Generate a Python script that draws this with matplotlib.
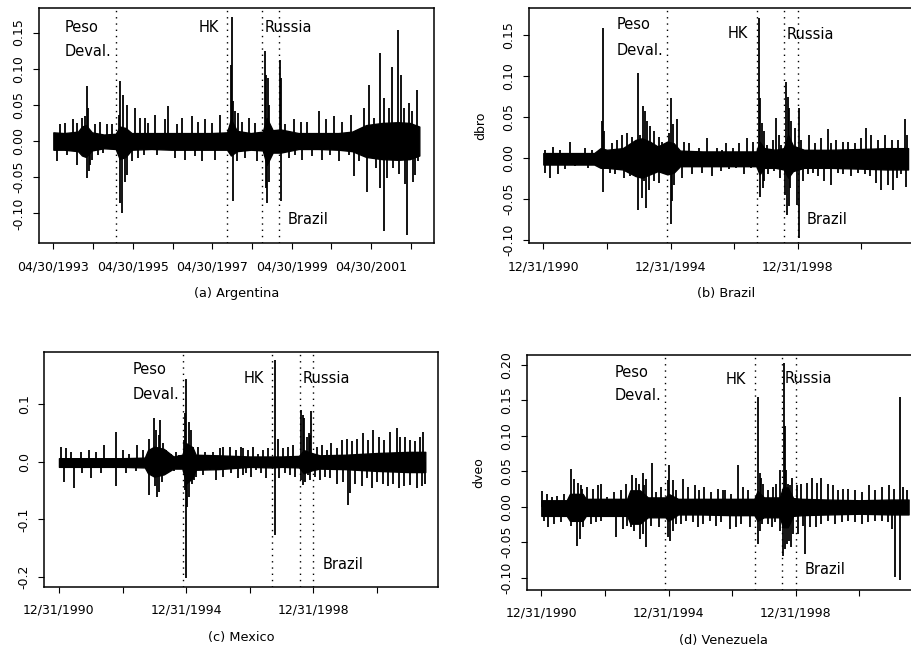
import matplotlib
matplotlib.use("Agg")
import matplotlib.pyplot as plt

plt.rcParams["font.family"] = ["DejaVu Sans"]
plt.rcParams["axes.unicode_minus"] = False

# crisis dates (decimal years) marked by dotted lines
event_names = ["Peso", "HK", "Russia", "Brazil"]
event_dates = [1994.90, 1997.71, 1998.57, 1999.00]

# ---- (a) Argentina: dense core band + individual spikes
arg_t = [1993.33, 1993.6, 1993.95, 1994.05, 1994.15, 1994.3, 1994.6, 1994.9, 1995.0, 1995.15,
         1995.3, 1995.8, 1996.3, 1996.8, 1997.3, 1997.7, 1997.8, 1997.95, 1998.3, 1998.6,
         1998.7, 1998.85, 1999.05, 1999.5, 2000.0, 2000.5, 2000.85, 2001.2, 2001.6, 2002.0,
         2002.3, 2002.54]
arg_hi = [0.012, 0.011, 0.013, 0.020, 0.022, 0.012, 0.009, 0.010, 0.020, 0.018,
          0.011, 0.011, 0.011, 0.011, 0.011, 0.012, 0.030, 0.014, 0.011, 0.013,
          0.032, 0.015, 0.016, 0.011, 0.011, 0.011, 0.013, 0.022, 0.025, 0.026,
          0.025, 0.020]
arg_lo = [-0.012, -0.012, -0.014, -0.020, -0.022, -0.013, -0.010, -0.011, -0.025, -0.022,
          -0.012, -0.011, -0.012, -0.012, -0.012, -0.012, -0.020, -0.014, -0.012, -0.013,
          -0.033, -0.016, -0.016, -0.011, -0.011, -0.012, -0.014, -0.022, -0.025, -0.026,
          -0.025, -0.020]
arg_spk_t = [1993.41, 1993.50, 1993.62, 1993.67, 1993.83, 1993.92, 1993.93, 1994.04, 1994.13, 1994.17,
             1994.18, 1994.21, 1994.22, 1994.25, 1994.30, 1994.38, 1994.46, 1994.51, 1994.59, 1994.67,
             1994.80, 1994.97, 1995.01, 1995.02, 1995.05, 1995.09, 1995.13, 1995.18, 1995.19, 1995.30,
             1995.39, 1995.47, 1995.51, 1995.60, 1995.64, 1995.72, 1995.89, 1995.93, 1996.14, 1996.21,
             1996.39, 1996.44, 1996.56, 1996.65, 1996.81, 1996.90, 1996.98, 1997.07, 1997.15, 1997.32,
             1997.40, 1997.53, 1997.80, 1997.82, 1997.84, 1997.86, 1997.91, 1997.95, 1997.97, 1998.08,
             1998.16, 1998.25, 1998.41, 1998.46, 1998.65, 1998.67, 1998.69, 1998.71, 1998.72, 1998.75,
             1998.76, 1999.03, 1999.06, 1999.07, 1999.17, 1999.25, 1999.38, 1999.42, 1999.55, 1999.59,
             1999.72, 1999.84, 2000.01, 2000.09, 2000.18, 2000.30, 2000.39, 2000.51, 2000.60, 2000.76,
             2000.81, 2000.89, 2001.02, 2001.14, 2001.23, 2001.27, 2001.39, 2001.44, 2001.54, 2001.56,
             2001.65, 2001.66, 2001.73, 2001.77, 2001.86, 2001.87, 2002.01, 2002.03, 2002.07, 2002.15,
             2002.17, 2002.23, 2002.28, 2002.36, 2002.37, 2002.44, 2002.49, 2002.51]
arg_spk_v = [-0.028, 0.023, 0.025, -0.019, 0.030, -0.033, 0.025, 0.032, 0.034, 0.076,
             -0.051, 0.046, -0.042, -0.033, -0.026, 0.023, -0.019, 0.027, -0.016, 0.023,
             0.023, 0.036, 0.083, -0.086, -0.100, 0.064, -0.056, 0.050, -0.047, -0.028,
             0.046, -0.023, 0.032, -0.019, 0.032, 0.025, 0.036, -0.019, 0.030, 0.049,
             -0.023, 0.023, 0.032, -0.026, 0.034, -0.021, 0.027, -0.028, 0.030, 0.025,
             -0.026, 0.036, 0.105, 0.172, -0.083, 0.055, 0.041, -0.028, 0.039, 0.027,
             -0.023, 0.032, 0.025, -0.028, 0.124, -0.065, 0.092, -0.086, 0.087, 0.050,
             -0.056, 0.112, -0.083, 0.087, 0.023, -0.023, 0.030, -0.019, 0.027, -0.026,
             0.027, -0.021, 0.041, -0.026, 0.030, -0.019, 0.034, -0.028, 0.027, -0.019,
             0.036, -0.049, -0.028, 0.046, -0.070, 0.078, 0.032, -0.037, 0.122, -0.065,
             0.059, -0.125, -0.051, 0.046, 0.103, -0.037, 0.154, -0.046, 0.092, 0.046,
             -0.060, -0.130, 0.053, 0.041, -0.056, -0.047, 0.071, -0.028]

# ---- (b) Brazil
bra_t = [1991.0, 1991.8, 1992.6, 1992.8, 1993.0, 1993.5, 1993.9, 1994.1, 1994.35, 1994.6,
         1994.9, 1995.1, 1995.3, 1996.0, 1996.7, 1997.3, 1997.7, 1997.8, 1997.95, 1998.3,
         1998.56, 1998.7, 1998.85, 1999.2, 2000.0, 2001.0, 2001.8, 2002.47]
bra_hi = [0.006, 0.006, 0.006, 0.012, 0.010, 0.012, 0.022, 0.024, 0.020, 0.014,
          0.020, 0.018, 0.009, 0.008, 0.008, 0.008, 0.008, 0.020, 0.012, 0.010,
          0.012, 0.028, 0.015, 0.010, 0.010, 0.011, 0.012, 0.012]
bra_lo = [-0.008, -0.008, -0.008, -0.012, -0.012, -0.014, -0.022, -0.024, -0.020, -0.016,
          -0.020, -0.018, -0.010, -0.010, -0.010, -0.010, -0.010, -0.020, -0.012, -0.012,
          -0.014, -0.024, -0.016, -0.012, -0.012, -0.013, -0.014, -0.014]
bra_spk_t = [1991.05, 1991.06, 1991.21, 1991.32, 1991.47, 1991.53, 1991.68, 1991.84, 1992.00, 1992.32,
             1992.42, 1992.53, 1992.82, 1992.84, 1992.87, 1992.88, 1992.92, 1993.11, 1993.16, 1993.26,
             1993.32, 1993.47, 1993.53, 1993.63, 1993.74, 1993.79, 1993.97, 1993.98, 1994.05, 1994.11,
             1994.13, 1994.16, 1994.19, 1994.24, 1994.26, 1994.32, 1994.35, 1994.47, 1994.48, 1994.63,
             1994.65, 1994.74, 1994.79, 1994.95, 1994.96, 1995.00, 1995.02, 1995.05, 1995.07, 1995.11,
             1995.21, 1995.37, 1995.42, 1995.58, 1995.68, 1995.89, 1996.00, 1996.16, 1996.32, 1996.47,
             1996.58, 1996.63, 1996.74, 1996.84, 1996.95, 1997.05, 1997.16, 1997.32, 1997.42, 1997.53,
             1997.58, 1997.77, 1997.82, 1997.83, 1997.87, 1997.90, 1997.93, 1997.95, 1998.05, 1998.06,
             1998.21, 1998.26, 1998.32, 1998.42, 1998.43, 1998.47, 1998.61, 1998.63, 1998.66, 1998.69,
             1998.72, 1998.74, 1998.77, 1998.79, 1998.92, 1998.98, 1999.03, 1999.04, 1999.11, 1999.16,
             1999.32, 1999.37, 1999.47, 1999.53, 1999.63, 1999.74, 1999.84, 1999.95, 2000.05, 2000.06,
             2000.21, 2000.26, 2000.42, 2000.43, 2000.58, 2000.68, 2000.79, 2000.89, 2001.00, 2001.11,
             2001.16, 2001.26, 2001.32, 2001.47, 2001.53, 2001.63, 2001.74, 2001.84, 2001.95, 2002.00,
             2002.11, 2002.16, 2002.26, 2002.39, 2002.42, 2002.45]
bra_spk_v = [0.010, -0.018, -0.024, 0.014, -0.020, 0.010, -0.014, 0.020, -0.010, 0.012,
             -0.012, 0.010, -0.012, 0.045, 0.159, -0.041, 0.033, -0.018, 0.018, -0.020,
             0.022, 0.028, -0.024, 0.030, -0.022, 0.026, 0.104, -0.063, 0.028, -0.049,
             0.063, -0.028, 0.057, -0.061, 0.045, -0.039, 0.039, 0.033, -0.028, 0.026,
             -0.030, 0.020, -0.020, 0.030, -0.020, -0.081, 0.073, -0.053, 0.041, -0.033,
             0.047, -0.024, 0.020, 0.018, -0.020, 0.012, -0.018, 0.024, -0.022, 0.012,
             -0.016, 0.010, 0.018, -0.014, 0.012, -0.012, 0.018, -0.020, 0.024, -0.012,
             0.020, 0.171, 0.073, -0.047, 0.043, -0.037, 0.033, -0.028, 0.016, -0.020,
             0.022, -0.016, 0.049, 0.028, -0.024, 0.016, -0.045, 0.093, -0.069, 0.075,
             -0.059, 0.061, -0.037, 0.045, 0.037, -0.057, 0.061, -0.098, 0.022, -0.028,
             -0.020, 0.028, -0.018, 0.018, -0.022, 0.024, -0.028, 0.035, 0.018, -0.033,
             0.022, -0.018, 0.020, -0.020, 0.020, -0.022, 0.018, -0.018, 0.024, -0.020,
             0.037, -0.022, 0.028, -0.030, 0.022, -0.039, 0.028, -0.033, 0.022, -0.039,
             -0.024, 0.022, -0.020, 0.047, -0.035, 0.028]

# ---- (c) Mexico
mex_t = [1991.0, 1992.0, 1993.0, 1993.7, 1993.8, 1994.0, 1994.3, 1994.6, 1994.88, 1995.0,
         1995.2, 1995.3, 1996.0, 1997.0, 1997.7, 1998.0, 1998.55, 1998.7, 1998.95, 1999.2,
         2000.0, 2001.0, 2002.0, 2002.52]
mex_hi = [0.006, 0.006, 0.006, 0.007, 0.020, 0.026, 0.022, 0.009, 0.012, 0.032,
          0.025, 0.012, 0.011, 0.009, 0.009, 0.009, 0.010, 0.020, 0.015, 0.011,
          0.012, 0.015, 0.017, 0.017]
mex_lo = [-0.009, -0.009, -0.009, -0.010, -0.020, -0.026, -0.022, -0.012, -0.012, -0.038,
          -0.028, -0.014, -0.013, -0.009, -0.010, -0.009, -0.010, -0.020, -0.015, -0.012,
          -0.013, -0.016, -0.018, -0.018]
mex_spk_t = [1991.05, 1991.16, 1991.21, 1991.37, 1991.47, 1991.68, 1991.74, 1991.95, 1992.00, 1992.16,
             1992.32, 1992.42, 1992.79, 1992.80, 1993.00, 1993.11, 1993.21, 1993.42, 1993.47, 1993.63,
             1993.82, 1993.84, 1994.00, 1994.03, 1994.05, 1994.07, 1994.14, 1994.16, 1994.19, 1994.24,
             1994.26, 1994.37, 1994.42, 1994.53, 1994.63, 1994.68, 1994.79, 1994.93, 1994.95, 1994.97,
             1995.00, 1995.00, 1995.03, 1995.08, 1995.09, 1995.16, 1995.17, 1995.23, 1995.24, 1995.32,
             1995.37, 1995.53, 1995.58, 1995.74, 1995.84, 1995.95, 1996.05, 1996.16, 1996.17, 1996.37,
             1996.42, 1996.58, 1996.63, 1996.74, 1996.79, 1996.80, 1996.89, 1996.94, 1997.05, 1997.10,
             1997.21, 1997.26, 1997.36, 1997.42, 1997.52, 1997.57, 1997.81, 1997.81, 1997.89, 1997.92,
             1998.05, 1998.10, 1998.21, 1998.26, 1998.36, 1998.42, 1998.61, 1998.61, 1998.66, 1998.66,
             1998.71, 1998.73, 1998.79, 1998.84, 1998.86, 1998.91, 1998.91, 1998.94, 1999.05, 1999.10,
             1999.21, 1999.26, 1999.36, 1999.42, 1999.52, 1999.57, 1999.73, 1999.73, 1999.89, 1999.94,
             2000.05, 2000.10, 2000.15, 2000.21, 2000.31, 2000.36, 2000.52, 2000.57, 2000.68, 2000.73,
             2000.84, 2000.89, 2000.99, 2001.05, 2001.20, 2001.21, 2001.36, 2001.42, 2001.52, 2001.63,
             2001.68, 2001.73, 2001.84, 2001.89, 2002.04, 2002.05, 2002.21, 2002.26, 2002.36, 2002.42,
             2002.45, 2002.50]
mex_spk_v = [0.026, -0.035, 0.023, 0.017, -0.046, 0.017, -0.020, 0.020, -0.029, 0.017,
             -0.020, 0.029, 0.052, -0.043, 0.020, -0.020, 0.014, -0.017, 0.029, 0.020,
             0.040, -0.058, 0.075, -0.043, 0.055, -0.061, 0.046, -0.052, 0.072, -0.035,
             0.032, 0.020, -0.014, 0.014, -0.017, 0.017, 0.012, 0.038, -0.049, 0.084,
             0.143, -0.202, -0.078, 0.069, -0.061, 0.055, -0.038, 0.026, -0.032, -0.026,
             0.026, -0.023, 0.017, -0.014, 0.017, -0.032, 0.023, 0.026, -0.026, 0.026,
             -0.020, 0.020, -0.029, 0.026, -0.023, 0.023, -0.020, 0.020, -0.026, 0.026,
             -0.014, 0.014, -0.020, 0.020, -0.029, 0.023, 0.176, -0.127, 0.040, -0.029,
             0.023, -0.020, 0.026, -0.023, 0.029, -0.026, 0.090, -0.032, 0.081, -0.040,
             0.075, -0.035, 0.043, -0.023, 0.049, 0.046, -0.032, 0.087, -0.026, 0.026,
             -0.032, 0.029, -0.026, 0.020, -0.029, 0.032, 0.023, -0.038, 0.037, -0.035,
             0.040, -0.075, -0.055, 0.035, -0.038, 0.040, -0.043, 0.049, -0.029, 0.037,
             -0.046, 0.055, -0.035, 0.043, -0.038, 0.037, -0.043, 0.052, -0.038, 0.058,
             -0.046, 0.043, -0.043, 0.043, -0.040, 0.037, 0.035, -0.046, 0.043, -0.043,
             0.052, -0.038]

# ---- (d) Venezuela
ven_t = [1991.0, 1991.8, 1991.9, 1992.3, 1992.4, 1993.0, 1993.7, 1993.8, 1994.1, 1994.35,
         1994.6, 1994.9, 1995.0, 1995.3, 1996.0, 1997.0, 1997.7, 1997.8, 1998.0, 1998.5,
         1998.6, 1998.75, 1998.92, 1999.2, 2000.0, 2001.0, 2002.0, 2002.55]
ven_hi = [0.009, 0.009, 0.018, 0.018, 0.011, 0.011, 0.011, 0.023, 0.023, 0.013,
          0.013, 0.013, 0.018, 0.011, 0.011, 0.011, 0.011, 0.022, 0.013, 0.013,
          0.027, 0.027, 0.012, 0.011, 0.010, 0.009, 0.010, 0.010]
ven_lo = [-0.013, -0.013, -0.020, -0.020, -0.013, -0.013, -0.013, -0.024, -0.024, -0.015,
          -0.015, -0.015, -0.020, -0.011, -0.011, -0.012, -0.012, -0.020, -0.015, -0.015,
          -0.029, -0.029, -0.013, -0.012, -0.011, -0.010, -0.011, -0.011]
ven_spk_t = [1991.03, 1991.08, 1991.19, 1991.20, 1991.35, 1991.40, 1991.50, 1991.61, 1991.72, 1991.92,
             1991.93, 1992.03, 1992.11, 1992.14, 1992.22, 1992.24, 1992.29, 1992.30, 1992.45, 1992.56,
             1992.61, 1992.71, 1992.77, 1992.87, 1992.89, 1993.08, 1993.29, 1993.34, 1993.50, 1993.56,
             1993.66, 1993.71, 1993.82, 1993.85, 1993.92, 1993.98, 1994.08, 1994.09, 1994.19, 1994.20,
             1994.24, 1994.29, 1994.30, 1994.45, 1994.48, 1994.61, 1994.71, 1994.76, 1994.97, 1994.98,
             1995.03, 1995.06, 1995.13, 1995.14, 1995.24, 1995.25, 1995.40, 1995.45, 1995.55, 1995.61,
             1995.76, 1995.82, 1995.92, 1995.97, 1996.08, 1996.13, 1996.29, 1996.34, 1996.50, 1996.55,
             1996.66, 1996.71, 1996.77, 1996.92, 1996.98, 1997.13, 1997.19, 1997.29, 1997.34, 1997.50,
             1997.55, 1997.80, 1997.82, 1997.87, 1997.88, 1997.92, 1997.94, 1997.97, 1998.13, 1998.14,
             1998.24, 1998.29, 1998.34, 1998.39, 1998.50, 1998.51, 1998.61, 1998.62, 1998.66, 1998.67,
             1998.68, 1998.74, 1998.76, 1998.79, 1998.82, 1998.86, 1998.87, 1998.92, 1999.03, 1999.08,
             1999.18, 1999.24, 1999.29, 1999.34, 1999.45, 1999.50, 1999.65, 1999.66, 1999.80, 1999.81,
             2000.01, 2000.02, 2000.18, 2000.24, 2000.34, 2000.45, 2000.50, 2000.65, 2000.66, 2000.86,
             2000.87, 2001.07, 2001.08, 2001.28, 2001.29, 2001.49, 2001.50, 2001.70, 2001.71, 2001.91,
             2001.92, 2002.02, 2002.08, 2002.13, 2002.28, 2002.29, 2002.39, 2002.50]
ven_spk_v = [0.0225, -0.020, 0.018, -0.029, 0.013, -0.025, 0.015, -0.022, 0.018, -0.027,
             0.053, 0.039, -0.055, 0.034, -0.046, 0.030, 0.025, -0.029, 0.027, -0.024,
             0.025, -0.022, 0.030, -0.020, 0.032, 0.013, 0.020, -0.043, 0.023, -0.031,
             0.032, -0.027, -0.029, 0.044, -0.034, 0.041, 0.032, -0.046, 0.048, -0.038,
             0.030, 0.039, -0.057, -0.027, 0.062, 0.020, -0.029, 0.027, 0.037, -0.043,
             0.058, -0.048, 0.037, -0.034, 0.023, -0.024, -0.024, 0.039, -0.020, 0.027,
             -0.022, 0.030, -0.029, 0.023, -0.024, 0.027, -0.020, 0.020, -0.027, 0.025,
             -0.022, 0.023, 0.023, -0.031, 0.018, -0.029, 0.058, -0.024, 0.027, 0.023,
             -0.029, -0.053, 0.155, 0.048, -0.034, 0.041, -0.024, 0.032, 0.023, -0.024,
             -0.029, 0.027, -0.022, 0.032, 0.051, -0.034, -0.069, 0.202, 0.114, -0.060,
             0.051, -0.053, 0.032, -0.048, 0.030, -0.057, 0.041, -0.038, 0.030, -0.038,
             0.032, -0.027, -0.067, 0.034, -0.029, 0.041, -0.029, 0.034, -0.024, 0.041,
             -0.020, 0.032, 0.030, -0.024, 0.023, -0.022, 0.025, -0.020, 0.025, -0.022,
             0.023, -0.024, 0.020, -0.022, 0.030, -0.020, 0.023, -0.020, 0.027, -0.022,
             0.030, -0.031, 0.025, -0.099, -0.104, 0.155, 0.027, 0.023]

# ---- axis ticks / labels
arg_xticks = [1993.33 + k for k in range(10)]
arg_xlabels = ["04/30/1993", "", "04/30/1995", "", "04/30/1997", "",
               "04/30/1999", "", "04/30/2001", ""]
dec_xticks = [1991, 1993, 1995, 1997, 1999, 2001]
dec_xlabels = ["12/31/1990", "", "12/31/1994", "", "12/31/1998", ""]

panels = [
    dict(rect=[0.0428, 0.625, 0.4331, 0.3627], t=arg_t, hi=arg_hi, lo=arg_lo,
         st=arg_spk_t, sv=arg_spk_v, xlim=(1992.97, 2002.91), ylim=(-0.141, 0.184),
         xticks=arg_xticks, xlabels=arg_xlabels,
         yticks=[-0.10, -0.05, 0.0, 0.05, 0.10, 0.15], yfmt="%.2f",
         title="(a) Argentina", ylabel=None,
         ly=dict(Peso=0.919, Deval=0.813, HK=0.915, Russia=0.915, Brazil=0.098)),
    dict(rect=[0.5797, 0.625, 0.432, 0.3627], t=bra_t, hi=bra_hi, lo=bra_lo,
         st=bra_spk_t, sv=bra_spk_v, xlim=(1990.54, 2002.93), ylim=(-0.1037, 0.183),
         xticks=dec_xticks, xlabels=dec_xlabels,
         yticks=[-0.10, -0.05, 0.0, 0.05, 0.10, 0.15], yfmt="%.2f",
         title="(b) Brazil", ylabel="dbro",
         ly=dict(Peso=0.928, Deval=0.821, HK=0.892, Russia=0.888, Brazil=0.098)),
    dict(rect=[0.0486, 0.0946, 0.432, 0.3622], t=mex_t, hi=mex_hi, lo=mex_lo,
         st=mex_spk_t, sv=mex_spk_v, xlim=(1990.54, 2002.93), ylim=(-0.2166, 0.190),
         xticks=dec_xticks, xlabels=dec_xlabels,
         yticks=[-0.2, -0.1, 0.0, 0.1], yfmt="%.1f",
         title="(c) Mexico", ylabel=None,
         ly=dict(Peso=0.925, Deval=0.821, HK=0.889, Russia=0.889, Brazil=0.094)),
    dict(rect=[0.5775, 0.09, 0.432, 0.3622], t=ven_t, hi=ven_hi, lo=ven_lo,
         st=ven_spk_t, sv=ven_spk_v, xlim=(1990.54, 2002.93), ylim=(-0.117, 0.2137),
         xticks=dec_xticks, xlabels=dec_xlabels,
         yticks=[-0.10, -0.05, 0.0, 0.05, 0.10, 0.15, 0.20], yfmt="%.2f",
         title="(d) Venezuela", ylabel="dveo",
         ly=dict(Peso=0.926, Deval=0.827, HK=0.895, Russia=0.898, Brazil=0.084)),
]

fig = plt.figure(figsize=(9.12, 6.48), dpi=100)

for p in panels:
    ax = fig.add_axes(p["rect"])
    ax.fill_between(p["t"], p["lo"], p["hi"], color="black", edgecolor="black", lw=1.0)
    ax.vlines(p["st"], 0, p["sv"], color="black", lw=1.3)
    for d in event_dates:
        ax.axvline(d, color="black", lw=1.0, ls=(0, (1, 3.5)))

    ax.set_xlim(*p["xlim"])
    ax.set_ylim(*p["ylim"])
    ax.set_xticks(p["xticks"])
    ax.set_xticklabels(p["xlabels"])
    ax.set_yticks(p["yticks"])
    ax.set_yticklabels([p["yfmt"] % v for v in p["yticks"]])
    ax.tick_params(axis="both", direction="out", length=4.3, width=0.8,
                   labelsize=9, colors="black")
    ax.tick_params(axis="x", pad=8.0)
    ax.tick_params(axis="y", pad=5.5)
    for lab in ax.get_yticklabels():
        lab.set_rotation(90)
        lab.set_va("center")
    for s in ax.spines.values():
        s.set_linewidth(1.1)

    xt = ax.get_xaxis_transform()
    fs = 10.5
    ax.annotate("Peso", xy=(event_dates[0], p["ly"]["Peso"]), xycoords=xt,
                xytext=(-36.5, 0), textcoords="offset points",
                ha="left", va="center", fontsize=fs)
    ax.annotate("Deval.", xy=(event_dates[0], p["ly"]["Deval"]), xycoords=xt,
                xytext=(-36.5, 0), textcoords="offset points",
                ha="left", va="center", fontsize=fs)
    ax.annotate("HK", xy=(event_dates[1], p["ly"]["HK"]), xycoords=xt,
                xytext=(-6, 0), textcoords="offset points",
                ha="right", va="center", fontsize=fs)
    ax.annotate("Russia", xy=(event_dates[2], p["ly"]["Russia"]), xycoords=xt,
                xytext=(2, 0), textcoords="offset points",
                ha="left", va="center", fontsize=fs)
    ax.annotate("Brazil", xy=(event_dates[3], p["ly"]["Brazil"]), xycoords=xt,
                xytext=(6.5, 0), textcoords="offset points",
                ha="left", va="center", fontsize=fs)

    ax.annotate(p["title"], xy=(0.5, 0), xycoords="axes fraction",
                xytext=(0, -36.5), textcoords="offset points",
                ha="center", va="center", fontsize=9.3)
    if p["ylabel"]:
        ax.annotate(p["ylabel"], xy=(0, 0.5), xycoords="axes fraction",
                    xytext=(-34.5, 0), textcoords="offset points",
                    ha="center", va="center", rotation=90, fontsize=9)

fig.savefig("out.png", dpi=100)
